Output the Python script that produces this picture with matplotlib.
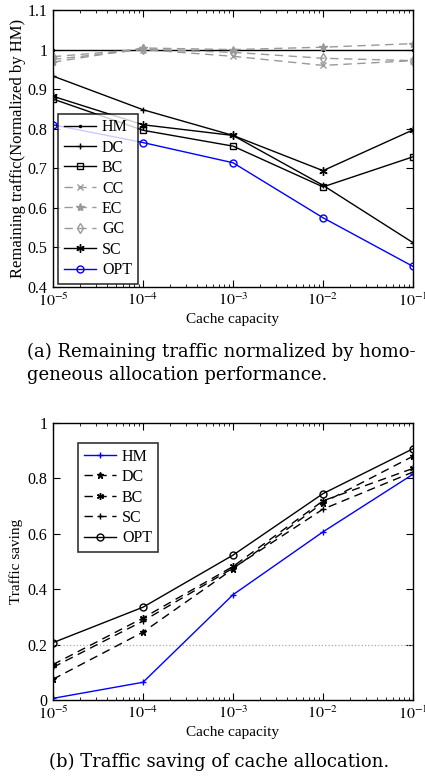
import numpy as np
import matplotlib
matplotlib.use("Agg")
import matplotlib.pyplot as plt
from matplotlib.ticker import LogLocator, NullFormatter, FixedLocator

plt.rcParams['font.family'] = ['Liberation Serif', 'DejaVu Serif']
plt.rcParams['mathtext.fontset'] = 'stix'

# ---------- data ----------
capacity = [1e-5, 1e-4, 1e-3, 1e-2, 1e-1]
cap_labels = [r'$10^{-5}$', r'$10^{-4}$', r'$10^{-3}$', r'$10^{-2}$', r'$10^{-1}$']

# (a) remaining traffic normalized by HM
rem_hm = [1.0, 1.0, 1.0, 1.0, 1.0]
rem_dc = [0.933, 0.848, 0.783, 0.657, 0.512]
rem_bc = [0.875, 0.796, 0.756, 0.653, 0.729]
rem_cc = [0.975, 1.0, 0.983, 0.960, 0.972]
rem_ec = [0.968, 1.004, 1.0, 1.006, 1.015]
rem_gc = [0.982, 1.001, 0.993, 0.978, 0.972]
rem_sc = [0.882, 0.810, 0.783, 0.694, 0.797]
rem_opt = [0.810, 0.765, 0.714, 0.575, 0.452]

# (b) traffic saving
sav_hm = [0.006, 0.064, 0.380, 0.607, 0.815]
sav_dc = [0.075, 0.245, 0.473, 0.712, 0.880]
sav_bc = [0.128, 0.296, 0.482, 0.719, 0.836]
sav_sc = [0.118, 0.285, 0.476, 0.689, 0.823]
sav_opt = [0.207, 0.335, 0.523, 0.745, 0.907]

gray = '#999999'
dash = (0, (6, 4))

fig = plt.figure(figsize=(4.25, 7.77), dpi=100)
W, H = 425.0, 777.0

def mk_axes(left, top, right, bottom):
    return fig.add_axes([left / W, 1 - bottom / H, (right - left) / W, (bottom - top) / H])

def style(ax):
    ax.set_xscale('log')
    ax.set_xlim(1e-5, 1e-1)
    ax.xaxis.set_major_locator(FixedLocator(capacity))
    ax.xaxis.set_minor_locator(LogLocator(base=10, subs=np.arange(2, 10)))
    ax.xaxis.set_minor_formatter(NullFormatter())
    ax.set_xticklabels(cap_labels)
    ax.tick_params(which='both', direction='in', top=True, right=True, labelsize=11.5, pad=4)
    ax.tick_params(which='major', length=5)
    ax.tick_params(which='minor', length=2.5)
    for s in ax.spines.values():
        s.set_linewidth(1.0)
    ax.set_xlabel('Cache capacity', fontsize=11, labelpad=2)

def legend(ax, x, y, loc):
    leg = ax.legend(loc=loc, bbox_to_anchor=(x, y), fontsize=11.5,
                    frameon=True, fancybox=False, edgecolor='k', handlelength=2.0,
                    handletextpad=0.4, labelspacing=0.28, borderpad=0.35, borderaxespad=0.0)
    leg.get_frame().set_linewidth(1.2)
    return leg

# ---------- (a) ----------
ax1 = mk_axes(53, 10, 413, 287)
ax1.plot(capacity, rem_hm, '-', color='k', marker='.', ms=3, lw=1, label='HM')
ax1.plot(capacity, rem_dc, '-', color='k', marker='+', ms=5, lw=1, label='DC')
ax1.plot(capacity, rem_bc, '-', color='k', marker='s', ms=5, mfc='none', lw=1, label='BC')
ax1.plot(capacity, rem_cc, color=gray, ls=dash, marker='x', ms=4, lw=1, label='CC')
ax1.plot(capacity, rem_ec, color=gray, ls=dash, marker='*', ms=6, lw=1, label='EC')
ax1.plot(capacity, rem_gc, color=gray, ls=dash, marker='d', ms=5, mfc='none', lw=1, label='GC')
ax1.plot(capacity, rem_sc, '-', color='k', marker=(6, 2, 0), ms=6, lw=1, label='SC')
ax1.plot(capacity, rem_opt, '-', color='b', marker='o', ms=5, mfc='none', lw=1, label='OPT')
style(ax1)
ax1.set_ylim(0.4, 1.1)
ax1.set_yticks([0.4, 0.5, 0.6, 0.7, 0.8, 0.9, 1.0, 1.1])
ax1.set_yticklabels(['0.4', '0.5', '0.6', '0.7', '0.8', '0.9', '1', '1.1'])
ax1.set_ylabel('Remaining traffic(Normalized by HM)', fontsize=12, labelpad=1)
legend(ax1, 5 / 360, 3 / 277, 'lower left')

fig.text(27 / W, 1 - 352 / H, '(a) Remaining traffic normalized by homo-',
         fontsize=13, va='center', ha='left', family='DejaVu Serif')
fig.text(27 / W, 1 - 375 / H, 'geneous allocation performance.',
         fontsize=13, va='center', ha='left', family='DejaVu Serif')

# ---------- (b) ----------
ax2 = mk_axes(53, 423, 413, 700)
ax2.axhline(0.2, color='#aaaaaa', ls=':', lw=0.9)
ax2.plot(capacity, sav_hm, '-', color='b', marker='+', ms=5, lw=1, label='HM')
ax2.plot(capacity, sav_dc, color='k', ls=dash, marker='*', ms=5, lw=1, label='DC')
ax2.plot(capacity, sav_bc, color='k', ls=dash, marker=(6, 2, 0), ms=5, lw=1, label='BC')
ax2.plot(capacity, sav_sc, color='k', ls=dash, marker='+', ms=5, lw=1, label='SC')
ax2.plot(capacity, sav_opt, '-', color='k', marker='o', ms=5, mfc='none', lw=1, label='OPT')
style(ax2)
ax2.set_ylim(0, 1)
ax2.set_yticks([0, 0.2, 0.4, 0.6, 0.8, 1.0])
ax2.set_yticklabels(['0', '0.2', '0.4', '0.6', '0.8', '1'])
ax2.set_ylabel('Traffic saving', fontsize=11, labelpad=3)
legend(ax2, 25 / 360, 1 - 20 / 277, 'upper left')

fig.text(219 / W, 1 - 762 / H, '(b) Traffic saving of cache allocation.',
         fontsize=13, va='center', ha='center', family='DejaVu Serif')

fig.savefig('out.png', dpi=100)
